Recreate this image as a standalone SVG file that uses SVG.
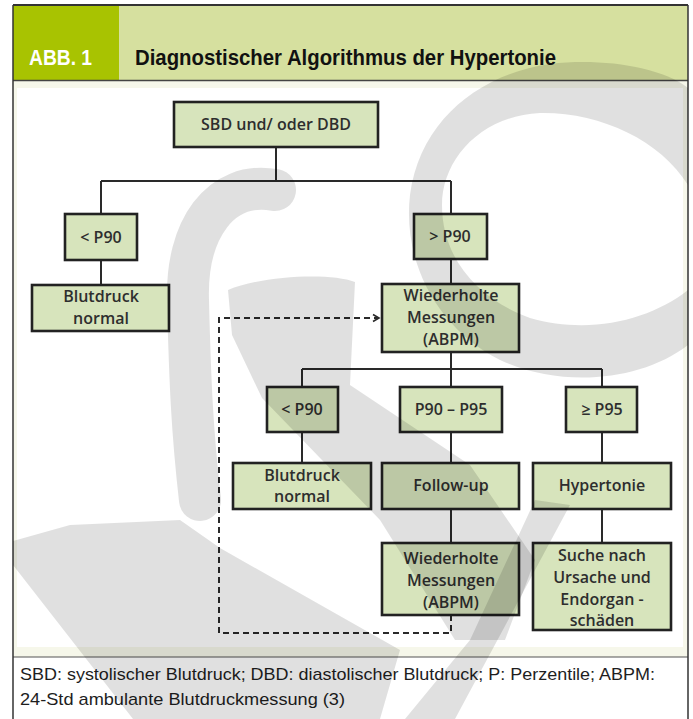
<svg xmlns="http://www.w3.org/2000/svg" width="693" height="719" viewBox="0 0 693 719">
<style>
.box{fill:#d7e4bc;stroke:#222;stroke-width:2.6}
.t{font-family:"Open Sans","Liberation Sans",sans-serif;font-size:16px;font-weight:600;fill:#2e2e2e;text-anchor:middle}
.ln{stroke:#2a2a2a;stroke-width:2;fill:none}
.cap{font-family:"Liberation Sans",Arial,sans-serif;font-size:17px;fill:#1e1e1e}
.hd{font-family:"Liberation Sans",Arial,sans-serif;font-weight:bold;font-size:22.5px}
.wm{fill:#000;fill-opacity:0.12}
</style>
<defs>
<marker id="arr" markerWidth="10" markerHeight="10" refX="8" refY="5" orient="auto" markerUnits="userSpaceOnUse">
<path d="M2,1.5 L8,5 L2,8.5" fill="none" stroke="#2a2a2a" stroke-width="1.6"/>
</marker>
</defs>
<rect x="0" y="0" width="693" height="719" fill="#fff"/>
<g id="frame">
<rect x="13" y="5" width="675" height="75" fill="#d6e09f"/>
<rect x="13" y="5" width="106" height="75" fill="#a8c301"/>
<rect x="13" y="81" width="675" height="576" fill="#f6f7ea"/>
<rect x="17" y="88" width="666" height="559" fill="#fff"/>
<line x1="13" y1="5" x2="688" y2="5" stroke="#333" stroke-width="2"/>
<line x1="13" y1="80.5" x2="688" y2="80.5" stroke="#444" stroke-width="1.5"/>
<line x1="13" y1="657" x2="688" y2="657" stroke="#555" stroke-width="1.2"/>
<line x1="13" y1="5" x2="13" y2="719" stroke="#333" stroke-width="1.5"/>
<line x1="688" y1="5" x2="688" y2="719" stroke="#333" stroke-width="1.5"/>
<text class="hd" x="29" y="65" fill="#fff" textLength="63" lengthAdjust="spacingAndGlyphs">ABB. 1</text>
<text class="hd" x="135" y="65" fill="#111" textLength="421" lengthAdjust="spacingAndGlyphs">Diagnostischer Algorithmus der Hypertonie</text>
<text class="cap" x="20" y="680" textLength="635" lengthAdjust="spacingAndGlyphs">SBD: systolischer Blutdruck; DBD: diastolischer Blutdruck; P: Perzentile; ABPM:</text>
<text class="cap" x="20" y="705" textLength="325" lengthAdjust="spacingAndGlyphs">24-Std ambulante Blutdruckmessung (3)</text>
</g>
<g id="connectors">
<path class="ln" d="M276,147 V181 M101,181 H451 M101,181 V214 M451,181 V214"/>
<path class="ln" d="M101,260 V285 M451,259 V284"/>
<path class="ln" d="M451,352 V369 M302,369 H602 M302,369 V387 M451,369 V387 M602,369 V387"/>
<path class="ln" d="M302,432 V463 M451,432 V463 M602,432 V463"/>
<path class="ln" d="M451,509 V543 M602,509 V543"/>
<path class="ln" d="M451,615 V633 H219 V318 H379" stroke-dasharray="6,4" marker-end="url(#arr)"/>
</g>
<g id="n-root"><rect class="box" x="174" y="102" width="204" height="45"/><text class="t" x="276" y="130">SBD und/ oder DBD</text></g>
<g id="n-lt1"><rect class="box" x="65" y="214" width="72" height="46"/><text class="t" x="101" y="243">&lt; P90</text></g>
<g id="n-gt1"><rect class="box" x="414" y="214" width="73" height="45"/><text class="t" x="450" y="242">&gt; P90</text></g>
<g id="n-bn1"><rect class="box" x="32" y="285" width="137" height="46"/><text class="t" x="101" y="302">Blutdruck</text><text class="t" x="101" y="324">normal</text></g>
<g id="n-wm1"><rect class="box" x="382" y="284" width="137" height="68"/><text class="t" x="451" y="301">Wiederholte</text><text class="t" x="451" y="323">Messungen</text><text class="t" x="451" y="345">(ABPM)</text></g>
<g id="n-lt2"><rect class="box" x="267" y="387" width="71" height="45"/><text class="t" x="302" y="415">&lt; P90</text></g>
<g id="n-mid"><rect class="box" x="400" y="387" width="102" height="45"/><text class="t" x="451" y="415">P90 – P95</text></g>
<g id="n-ge"><rect class="box" x="566" y="387" width="71" height="45"/><text class="t" x="602" y="415">≥ P95</text></g>
<g id="n-bn2"><rect class="box" x="233" y="463" width="138" height="46"/><text class="t" x="302" y="481">Blutdruck</text><text class="t" x="302" y="502">normal</text></g>
<g id="n-fu"><rect class="box" x="382" y="463" width="137" height="46"/><text class="t" x="451" y="491">Follow-up</text></g>
<g id="n-ht"><rect class="box" x="533" y="463" width="138" height="46"/><text class="t" x="602" y="491">Hypertonie</text></g>
<g id="n-wm2"><rect class="box" x="382" y="543" width="137" height="72"/><text class="t" x="451" y="564">Wiederholte</text><text class="t" x="451" y="586">Messungen</text><text class="t" x="451" y="608">(ABPM)</text></g>
<g id="n-su"><rect class="box" x="533" y="543" width="138" height="87"/><text class="t" x="602" y="561">Suche nach</text><text class="t" x="602" y="583">Ursache und</text><text class="t" x="602" y="605">Endorgan -</text><text class="t" x="602" y="626">schäden</text></g>
<g id="watermark">
<path class="wm" fill-rule="evenodd" d="M688,88 C660,66 600,58 550,64 C480,74 420,120 410,195 C402,265 440,330 500,360 C560,388 640,382 688,345 Z M688,185 C660,140 600,112 540,113 C480,116 442,160 442,205 C442,260 480,300 530,318 C590,335 650,320 688,290 Z"/>
<path d="M275,190 C220,180 186,230 188,300 C190,380 192,430 200,500" fill="none" stroke="#000" stroke-opacity="0.12" stroke-width="42" stroke-linecap="round"/>
<path class="wm" d="M228,290 C260,276 330,272 355,282 L350,385 L470,465 L535,560 L505,640 L455,640 L380,520 L262,398 L232,335 Z"/>
<path class="wm" d="M13,541 L70,525 L180,520 L220,548 L400,650 L380,719 L133,719 L13,565 Z"/>
<path class="wm" d="M535,500 L570,505 L455,719 L405,719 L470,640 Z"/>
</g>
</svg>
